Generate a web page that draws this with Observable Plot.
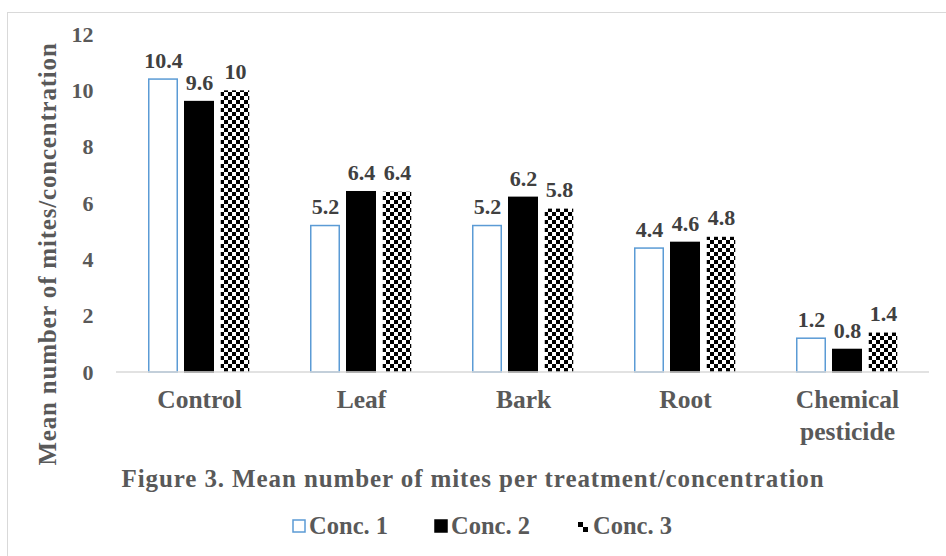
<!DOCTYPE html>
<html>
<head>
<meta charset="utf-8">
<script src="https://cdn.jsdelivr.net/npm/d3@7"></script>
<script src="https://cdn.jsdelivr.net/npm/@observablehq/plot@0.6"></script>
<style>
  html, body { margin: 0; padding: 0; background: #fff; }
  #wrap { position: relative; width: 946px; height: 556px; overflow: hidden; font-family: "Liberation Serif", "Times New Roman", serif; }
  #frame { position: absolute; left: 7px; top: 12px; width: 960px; height: 560px; border-top: 1.5px solid #d9d9d9; border-left: 1.5px solid #d9d9d9; box-sizing: border-box; }
  #title { position: absolute; left: 0; width: 946px; top: 465px; text-align: center; font-weight: bold; font-size: 25px; letter-spacing: 0.9px; color: #595959; }
  #legend { position: absolute; left: 0; width: 946px; top: 512px; display: flex; justify-content: center; gap: 46px; font-weight: bold; font-size: 24.5px; color: #595959; padding-left: 18px; box-sizing: border-box; }
  #legend .item { display: flex; align-items: center; gap: 3px; }
  #legend svg { display: block; }
  #chart { position: absolute; left: 0; top: 0; }
  #chart svg, #chart svg text { font-family: "Liberation Serif", "Times New Roman", serif !important; font-weight: bold; }
</style>
</head>
<body>
<div id="wrap">
  <div id="frame"></div>
  <div id="chart"></div>
  <div id="title">Figure 3. Mean number of mites per treatment/concentration</div>
  <div id="legend"></div>
</div>
<script>
// Treatments, concentrations and mean mite counts
const treatments = ["Control", "Leaf", "Bark", "Root", "Chemical pesticide"];
const treatmentLabels = ["Control", "Leaf", "Bark", "Root", "Chemical\npesticide"];
const concentrations = ["Conc. 1", "Conc. 2", "Conc. 3"];
const conc1 = [10.4, 5.2, 5.2, 4.4, 1.2];
const conc2 = [9.6, 6.4, 6.2, 4.6, 0.8];
const conc3 = [10, 6.4, 5.8, 4.8, 1.4];
const yTicks = [0, 2, 4, 6, 8, 10, 12];

const seriesValues = [conc1, conc2, conc3];
const rows = [];
treatments.forEach((t, i) => {
  concentrations.forEach((c, j) => rows.push({treatment: t, conc: c, value: seriesValues[j][i]}));
});

const fills = {"Conc. 1": "white", "Conc. 2": "black", "Conc. 3": "url(#checker)"};
const strokes = {"Conc. 1": "#5b9bd5", "Conc. 2": "black", "Conc. 3": "none"};
const textColor = "#595959";
const serif = "Liberation Serif, Times New Roman, serif";

const chart = Plot.plot({
  width: 946,
  height: 556,
  marginTop: 34,
  marginBottom: 184,
  marginLeft: 116,
  marginRight: 17,
  style: {background: "transparent", overflow: "visible"},
  fx: {domain: treatments, paddingInner: 0.373, paddingOuter: 0.1865, label: null, axis: null},
  x: {domain: concentrations, paddingInner: 0.17, paddingOuter: 0, axis: null},
  y: {domain: [0, 12], ticks: yTicks, label: null},
  marks: [
    // The leftmost facet starts ~30px inside the frame, so the padding reaches back to the margin
    Plot.axisY({ticks: yTicks, tickSize: 0, tickPadding: 55, fontSize: 22, fontFamily: serif, fill: textColor, label: null}),
    Plot.barY(rows, {
      fx: "treatment", x: "conc", y: "value",
      fill: d => fills[d.conc],
      stroke: d => strokes[d.conc],
      strokeWidth: 1.5,
      insetLeft: 0.75, insetRight: 0.75
    }),
    Plot.text(rows, {
      fx: "treatment", x: "conc", y: "value", text: d => String(d.value),
      lineAnchor: "bottom", dy: -12, fontSize: 22, fontFamily: serif, fill: "#404040"
    }),
    Plot.text(treatments, {
      fx: d => d, text: (d, i) => treatmentLabels[i],
      frameAnchor: "bottom", lineAnchor: "top", dy: 13, lineHeight: 1.25,
      fontSize: 25.5, fontFamily: serif, fill: textColor
    })
  ]
});

const svg = d3.select(chart);
const defs = svg.insert("defs", ":first-child");
const pat = defs.append("pattern").attr("id", "checker").attr("patternUnits", "userSpaceOnUse")
  .attr("width", 8).attr("height", 8);
pat.append("rect").attr("width", 8).attr("height", 8).attr("fill", "white");
pat.append("rect").attr("width", 4).attr("height", 4).attr("fill", "black");
pat.append("rect").attr("x", 4).attr("y", 4).attr("width", 4).attr("height", 4).attr("fill", "black");

// One baseline across the whole frame (facets would split it)
const yScale = chart.scale("y");
svg.append("line")
  .attr("x1", 116).attr("x2", 946 - 17)
  .attr("y1", yScale.apply(0)).attr("y2", yScale.apply(0))
  .attr("stroke", "#d9d9d9").attr("stroke-width", 1.5);

// Rotated y-axis title
svg.append("text")
  .attr("transform", "translate(47,254) rotate(-90)")
  .attr("text-anchor", "middle")
  .attr("dominant-baseline", "central")
  .attr("font-size", 25)
  .attr("letter-spacing", 0.8)
  .attr("fill", textColor)
  .text("Mean number of mites/concentration");

document.getElementById("chart").appendChild(chart);

// Legend swatches
const legend = d3.select("#legend");
concentrations.forEach(c => {
  const item = legend.append("div").attr("class", "item");
  const sw = item.append("svg").attr("width", 14).attr("height", 14);
  if (c === "Conc. 3") {
    sw.append("rect").attr("x", 2).attr("y", 3).attr("width", 5).attr("height", 5).attr("fill", "black");
    sw.append("rect").attr("x", 7).attr("y", 8).attr("width", 5).attr("height", 5).attr("fill", "black");
  } else {
    sw.append("rect").attr("x", 1).attr("y", 1).attr("width", 12).attr("height", 12)
      .attr("fill", fills[c]).attr("stroke", strokes[c]).attr("stroke-width", 1.5);
  }
  item.append("span").text(c);
});
</script>
</body>
</html>
